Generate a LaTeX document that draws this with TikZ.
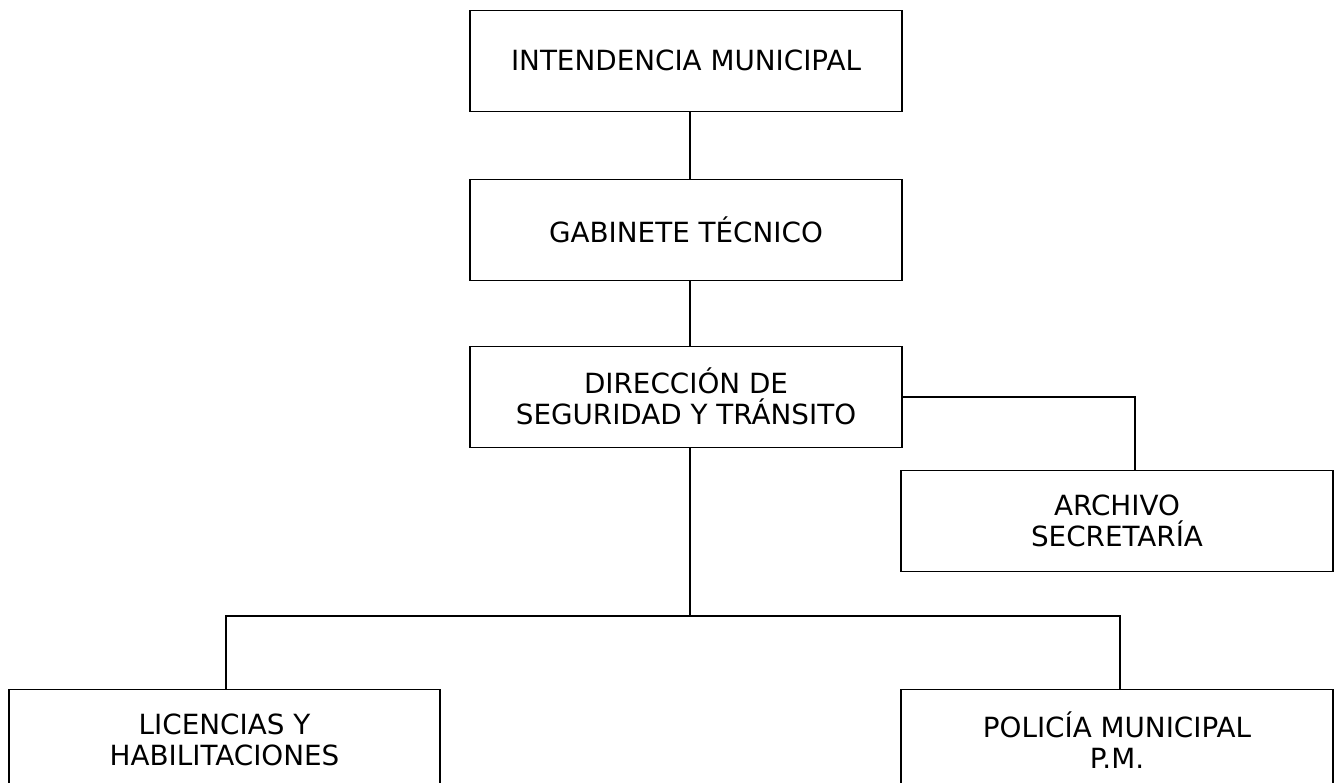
\documentclass[tikz,border=0pt]{standalone}
\usepackage{fontspec}
\setmainfont{DejaVu Sans}
\begin{document}
\begin{tikzpicture}[x=1pt,y=-1pt,
  orgbox/.style={draw=black,line width=1.3pt,minimum width=432pt,minimum height=101pt,
    align=center,inner sep=0pt,font=\fontsize{27.8}{31}\selectfont,fill=white},
  conn/.style={draw=black,line width=1.3pt}]
\useasboundingbox (0,0) rectangle (1339,783);
\clip (0,0) rectangle (1339,783);
\coordinate (trunk) at (690,0);
\coordinate (rtrunk) at (1135,397);
\coordinate (lbranch) at (226,616);
\coordinate (rbranch) at (1120,616);
\coordinate (junction) at (690,616);
\node[orgbox] (intend) at (686,60.7) {INTENDENCIA MUNICIPAL};
\node[orgbox] (gab) at (686,230) {GABINETE TÉCNICO};
\node[orgbox] (dir) at (686,396.7) {DIRECCIÓN DE\\SEGURIDAD Y TRÁNSITO};
\node[orgbox] (arch) at (1117,521) {ARCHIVO\\SECRETARÍA};
\node[orgbox,minimum width=431pt] (lic) at (224.5,740) {LICENCIAS Y\\HABILITACIONES};
\node[orgbox] (pol) at (1117,740) {POLICÍA MUNICIPAL\\P.M.};
\draw[conn] (intend.south -| trunk) -- (gab.north -| trunk);
\draw[conn] (gab.south -| trunk) -- (dir.north -| trunk);
\draw[conn] (dir.east |- rtrunk) -- (rtrunk) -- (arch.north -| rtrunk);
\draw[conn] (dir.south -| trunk) -- (junction);
\draw[conn] (lic.north -| lbranch) -- (lbranch) -- (rbranch) -- (pol.north -| rbranch);
\end{tikzpicture}
\end{document}
